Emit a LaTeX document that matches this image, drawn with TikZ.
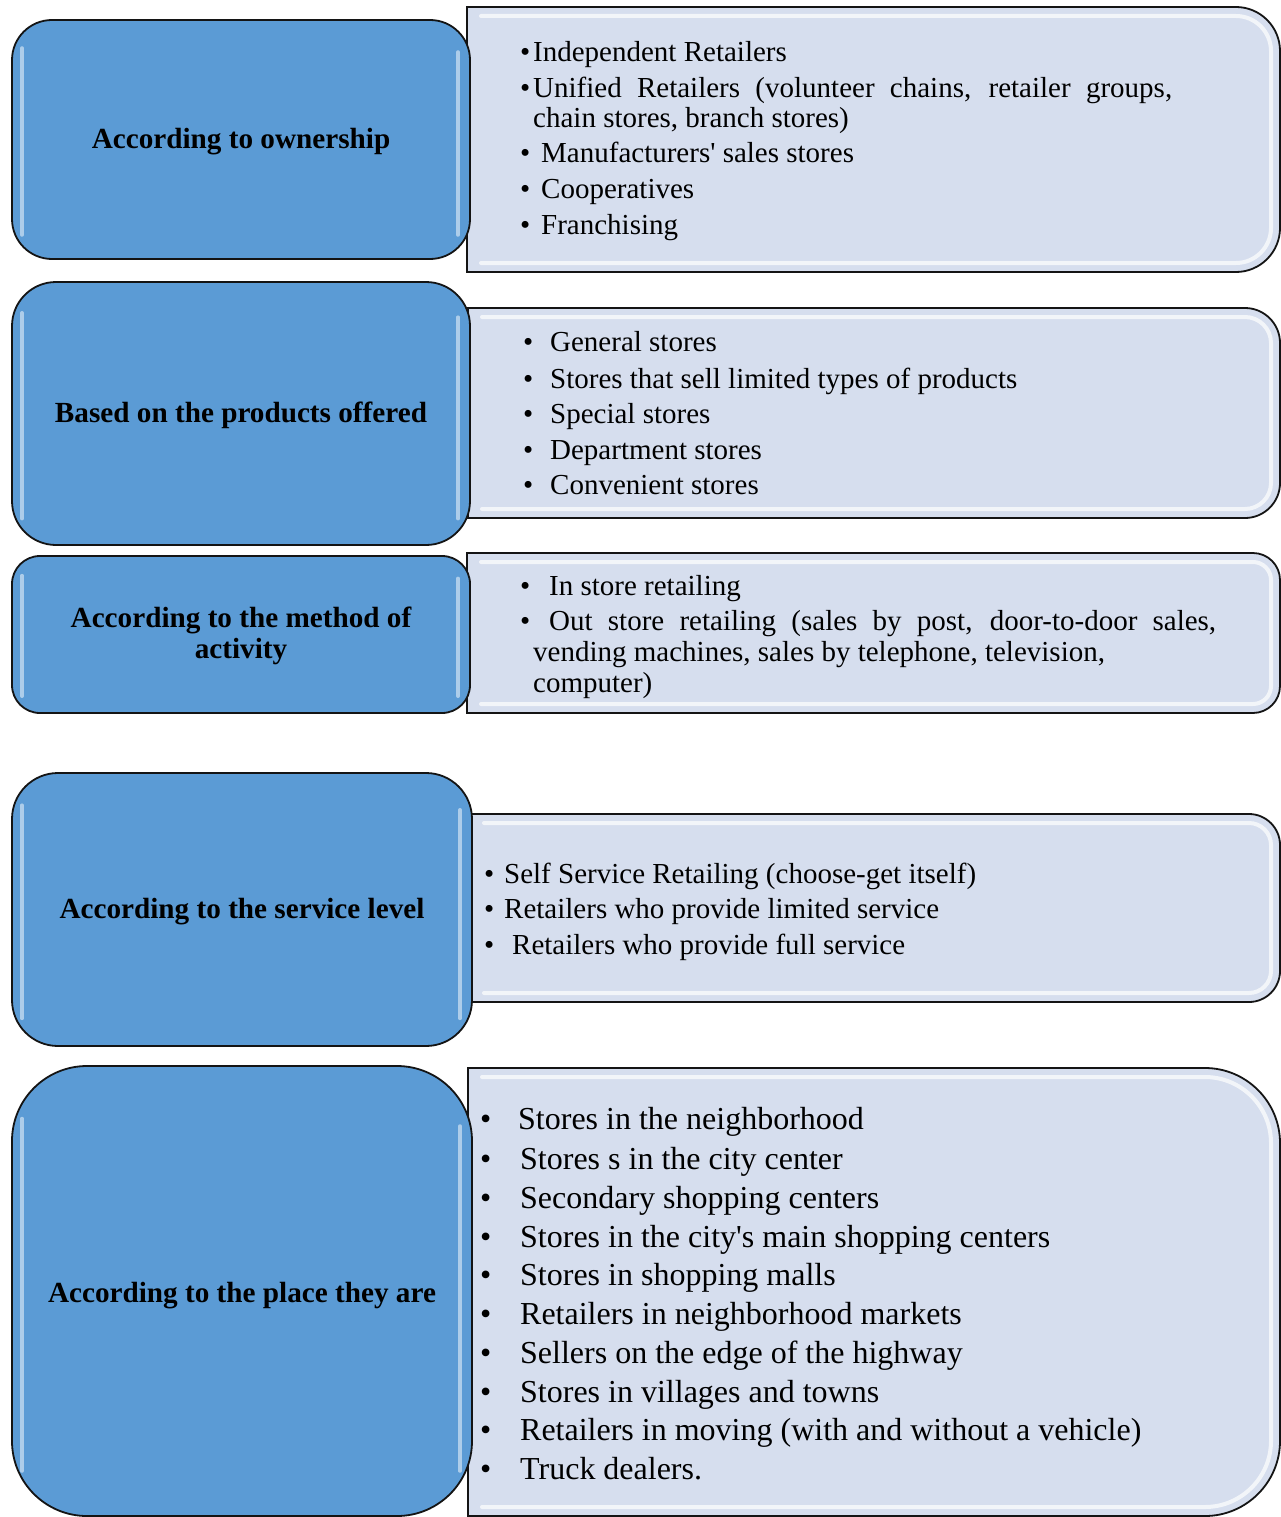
\documentclass[tikz,border=0pt]{standalone}
\usepackage{fontspec}
\setmainfont{Liberation Serif}
\definecolor{catblue}{RGB}{91,155,213}
\definecolor{litefill}{RGB}{214,222,238}
\definecolor{edgecol}{RGB}{20,20,20}
\newcommand\bul[1]{\makebox[#1pt][l]{\textbullet}}
\tikzset{
  catbox/.style={draw=edgecol, line width=1.8pt, fill=catblue, inner sep=0pt, align=center,
    font=\fontsize{29.2}{31}\selectfont\bfseries},
  litebox/.style={draw=edgecol, line width=1.8pt, fill=litefill},
  litehi/.style={draw=white, line width=4pt, opacity=0.7, line cap=round},
  bluehi/.style={draw=white, line width=3.5pt, opacity=0.5, line cap=round},
  itm/.style={anchor=base west, inner sep=0pt, font=\fontsize{29}{34}\selectfont},
  itmbig/.style={anchor=base west, inner sep=0pt, font=\fontsize{32}{38}\selectfont},
}
% light panel: x0 y0 x1 y1 r
\newcommand\litepanel[5]{%
  \path[litebox] (#1,#2) -- ({#3-#5},#2) .. controls ({#3-0.45*#5},#2) and (#3,{#2+0.45*#5}) .. (#3,{#2+#5})
    -- (#3,{#4-#5}) .. controls (#3,{#4-0.45*#5}) and ({#3-0.45*#5},#4) .. ({#3-#5},#4) -- (#1,#4) -- cycle;
  \draw[litehi] ({#1+14},{#2+9}) -- ({#3-#5},{#2+9})
    .. controls ({#3-9-0.45*(#5-9)},{#2+9}) and ({#3-9},{#2+9+0.45*(#5-9)}) .. ({#3-9},{#2+#5})
    -- ({#3-9},{#4-#5})
    .. controls ({#3-9},{#4-9-0.45*(#5-9)}) and ({#3-9-0.45*(#5-9)},{#4-9}) .. ({#3-#5},{#4-9})
    -- ({#1+14},{#4-9});
}
% blue box: name x0 y0 x1 y1 r text-shift text
\newcommand\catpanel[8]{%
  \path[catbox, minimum width={#4-#2}, minimum height={#5-#3}, rounded corners=#6]
    ({(#2+#4)/2},{(#3+#5)/2}) node[catbox, minimum width={#4-#2}, minimum height={#5-#3}, rounded corners=#6] (#1) {};
  \node[inner sep=0pt, align=center, font=\fontsize{29.2}{31}\selectfont\bfseries] (#1t)
    at ({(#2+#4)/2},{(#3+#5)/2+#7}) {#8};
  \draw[bluehi] ({#2+10},{#5-0.6*#6}) -- ({#2+10},{#3+0.7*#6});
  \draw[bluehi] ({#4-12},{#3+0.8*#6}) -- ({#4-12},{#5-0.6*#6});
}
\begin{document}
\begin{tikzpicture}[x=1pt,y=-1pt]
\useasboundingbox (0,0) rectangle (1281,1517);
\fill[white] (0,0) rectangle (1281,1517);

% light panels
\litepanel{467}{7}{1280}{272}{44}
\litepanel{468}{308}{1280}{518}{35}
\litepanel{467}{553}{1280}{713}{27}
\litepanel{470}{814}{1280}{1002}{31}
\litepanel{468}{1068}{1280}{1516}{75}

% blue category boxes
\catpanel{own}{12}{20}{470}{259}{40}{2}{According to ownership}
\catpanel{prod}{12}{282}{470}{545}{44}{2}{Based on the products offered}
\catpanel{meth}{12}{556}{470}{713}{28}{1}{According to the method of\\activity}
\catpanel{serv}{12}{773}{472}{1046}{46}{2}{According to the service level}
\catpanel{place}{12}{1066}{472}{1516}{75}{5}{According to the place they are}

% box 1 items
\node[itm] (o1) at (520,62) {\bul{13}Independent Retailers};
\node[itm] (o2) at (520,98) {\bul{13}\makebox[639pt][s]{Unified Retailers (volunteer chains, retailer groups,}};
\node[itm] (o3) at (533,128) {chain stores, branch stores)};
\node[itm] (o4) at (520,163) {\bul{21}Manufacturers\textquotesingle{} sales stores};
\node[itm] (o5) at (520,199) {\bul{21}Cooperatives};
\node[itm] (o6) at (520,234) {\bul{21}Franchising};

% box 2 items
\node[itm] (p1) at (523,351) {\bul{27}General stores};
\node[itm] (p2) at (523,388) {\bul{27}Stores that sell limited types of products};
\node[itm] (p3) at (523,423) {\bul{27}Special stores};
\node[itm] (p4) at (523,459) {\bul{27}Department stores};
\node[itm] (p5) at (523,494) {\bul{27}Convenient stores};

% box 3 items
\node[itm] (m1) at (520,595) {\bul{29}In store retailing};
\node[itm] (m2) at (520,630) {\bul{29}\makebox[667pt][s]{Out store retailing (sales by post, door-to-door sales,}};
\node[itm] (m3) at (533,661) {vending machines, sales by telephone, television,};
\node[itm] (m4) at (533,692) {computer)};

% box 4 items
\node[itm] (s1) at (484,883) {\bul{20}Self Service Retailing (choose-get itself)};
\node[itm] (s2) at (484,918) {\bul{20}Retailers who provide limited service};
\node[itm] (s3) at (484,954) {\bul{28}Retailers who provide full service};

% box 5 items
\node[itmbig] (l1) at (480,1129) {\bul{38}Stores in the neighborhood};
\node[itmbig] (l2) at (480,1169) {\bul{40}Stores s in the city center};
\node[itmbig] (l3) at (480,1208) {\bul{40}Secondary shopping centers};
\node[itmbig] (l4) at (480,1247) {\bul{40}Stores in the city\textquotesingle{}s main shopping centers};
\node[itmbig] (l5) at (480,1285) {\bul{40}Stores in shopping malls};
\node[itmbig] (l6) at (480,1324) {\bul{40}Retailers in neighborhood markets};
\node[itmbig] (l7) at (480,1363) {\bul{40}Sellers on the edge of the highway};
\node[itmbig] (l8) at (480,1402) {\bul{40}Stores in villages and towns};
\node[itmbig] (l9) at (480,1440) {\bul{40}Retailers in moving (with and without a vehicle)};
\node[itmbig] (l10) at (480,1479) {\bul{40}Truck dealers.};
\end{tikzpicture}
\end{document}
